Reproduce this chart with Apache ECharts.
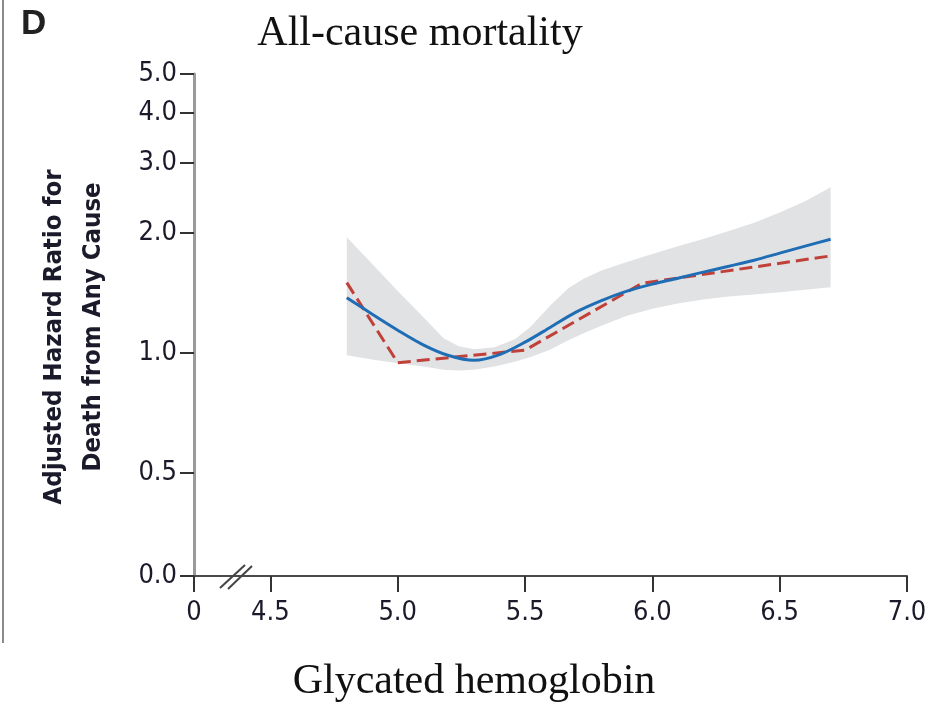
<!DOCTYPE html>
<html>
<head>
<meta charset="utf-8">
<script src="https://cdn.jsdelivr.net/npm/echarts@6/dist/echarts.min.js"></script>
<style>
html,body{margin:0;padding:0;background:#fff;}
#chart{width:935px;height:709px;}
</style>
</head>
<body>
<div id="chart"></div>
<script>
// ---- data ----
const xTickValues = [4.2, 4.5, 5.0, 5.5, 6.0, 6.5, 7.0];
const xTickLabels = ['0', '4.5', '5.0', '5.5', '6.0', '6.5', '7.0'];
const yTickValues = [0.2761, 0.5, 1.0, 2.0, 3.0, 4.0, 5.0];
const yTickLabels = ['0.0', '0.5', '1.0', '2.0', '3.0', '4.0', '5.0'];

const bandX     = [4.8, 4.9, 5.0, 5.1, 5.18, 5.24, 5.3, 5.38, 5.46, 5.52, 5.6, 5.67, 5.73, 5.8, 5.9, 6.0, 6.1, 6.2, 6.3, 6.4, 6.5, 6.6, 6.7];
const bandUpper = [1.95, 1.67, 1.43, 1.23, 1.088, 1.039, 1.022, 1.033, 1.082, 1.16, 1.317, 1.452, 1.535, 1.61, 1.69, 1.77, 1.85, 1.93, 2.02, 2.12, 2.25, 2.40, 2.60];
const bandLower = [0.987, 0.962, 0.942, 0.925, 0.907, 0.903, 0.908, 0.925, 0.95, 0.975, 1.02, 1.075, 1.12, 1.17, 1.24, 1.29, 1.33, 1.36, 1.385, 1.40, 1.42, 1.44, 1.46];

const splineX = [4.8, 4.9, 5.0, 5.1, 5.2, 5.3, 5.4, 5.5, 5.6, 5.7, 5.8, 5.9, 6.0, 6.1, 6.2, 6.3, 6.4, 6.5, 6.6, 6.7];
const splineY = [1.375, 1.25, 1.14, 1.048, 0.985, 0.958, 0.99, 1.064, 1.16, 1.265, 1.352, 1.428, 1.487, 1.539, 1.594, 1.649, 1.707, 1.778, 1.852, 1.927];

const catX = [4.8, 5.0, 5.5, 5.96, 6.7];
const catY = [1.50, 0.945, 1.016, 1.495, 1.75];

// ---- chart ----
const chart = echarts.init(document.getElementById('chart'), null, {renderer: 'canvas'});
const labelFont = '"Liberation Sans Narrow", "DejaVu Sans Condensed", sans-serif';
const serifFont = '"Liberation Serif", "DejaVu Serif", serif';

const option = {
  backgroundColor: '#ffffff',
  animation: false,
  title: [
    {text: 'All-cause mortality', left: 415, top: 8, textAlign: 'center',
     textStyle: {fontFamily: serifFont, fontWeight: 'normal', fontSize: 42, color: '#111'}},
    {text: 'Glycated hemoglobin', left: 469, top: 656, textAlign: 'center',
     textStyle: {fontFamily: serifFont, fontWeight: 'normal', fontSize: 42, color: '#111'}}
  ],
  grid: {left: 194, right: 28, top: 74, bottom: 133, containLabel: false},
  xAxis: {
    type: 'value', min: 4.2, max: 7.0,
    splitLine: {show: false},
    axisLine: {lineStyle: {color: '#4a4a4a', width: 2}},
    axisTick: {show: true, length: 16, inside: false, customValues: xTickValues,
               lineStyle: {color: '#333', width: 2}},
    axisLabel: {customValues: xTickValues, margin: 23, fontFamily: labelFont, fontSize: 27, color: '#1a1a2a',
                formatter: function (v) { const i = xTickValues.indexOf(v); return i >= 0 ? xTickLabels[i] : v.toFixed(1); }}
  },
  yAxis: {
    type: 'log', logBase: 10, min: 0.276, max: 5,
    splitLine: {show: false},
    axisLine: {lineStyle: {color: '#9a9a9a', width: 3}},
    axisTick: {show: true, length: 14, inside: false, customValues: yTickValues,
               lineStyle: {color: '#333', width: 2}},
    axisLabel: {customValues: yTickValues, margin: 17, fontFamily: labelFont, fontSize: 27, color: '#1a1a2a',
                formatter: function (v) { return v < 0.3 ? yTickLabels[0] : v.toFixed(1); }}
  },
  graphic: [
    {type: 'text', left: 21, top: 7, style: {text: 'D', fontFamily: '"Liberation Sans", sans-serif', fontWeight: 'bold', fontSize: 35, fill: '#222'}},
    {type: 'line', shape: {x1: 3, y1: 0, x2: 3, y2: 643}, style: {stroke: '#8a8a8a', lineWidth: 2}},
    {type: 'line', shape: {x1: 220, y1: 588, x2: 245, y2: 565}, style: {stroke: '#444', lineWidth: 2}, z: 10},
    {type: 'line', shape: {x1: 228, y1: 589, x2: 252, y2: 566}, style: {stroke: '#444', lineWidth: 2}, z: 10},
    {type: 'text', x: 54, y: 337, rotation: Math.PI / 2,
     style: {text: 'Adjusted Hazard Ratio for', fontFamily: labelFont, fontWeight: 'bold', fontSize: 25.5, fill: '#1a1a2a',
             align: 'center', verticalAlign: 'middle'}},
    {type: 'text', x: 93, y: 327, rotation: Math.PI / 2,
     style: {text: 'Death from Any Cause', fontFamily: labelFont, fontWeight: 'bold', fontSize: 25.5, fill: '#1a1a2a',
             align: 'center', verticalAlign: 'middle'}}
  ],
  series: [
    {
      type: 'custom', name: 'CI',
      data: bandX.map((x, i) => [x, bandLower[i], bandUpper[i]]),
      encode: {x: 0, y: [1, 2]},
      silent: true, z: 1,
      renderItem: function (params, api) {
        if (params.dataIndex !== 0) return null;
        const pts = [];
        for (let i = 0; i < bandX.length; i++) pts.push(api.coord([bandX[i], bandUpper[i]]));
        for (let i = bandX.length - 1; i >= 0; i--) pts.push(api.coord([bandX[i], bandLower[i]]));
        return {type: 'polygon', shape: {points: pts, smooth: 0}, style: {fill: '#e1e2e4', stroke: 'none'}};
      }
    },
    {
      type: 'line', name: 'Spline', z: 3,
      data: splineX.map((x, i) => [x, splineY[i]]),
      smooth: 0.3, showSymbol: false,
      lineStyle: {color: '#1f6db5', width: 3}
    },
    {
      type: 'line', name: 'Categorical', z: 2,
      data: catX.map((x, i) => [x, catY[i]]),
      smooth: false, showSymbol: false,
      lineStyle: {color: '#c0403a', width: 3, type: [13, 6]}
    }
  ]
};
chart.setOption(option);
</script>
</body>
</html>
